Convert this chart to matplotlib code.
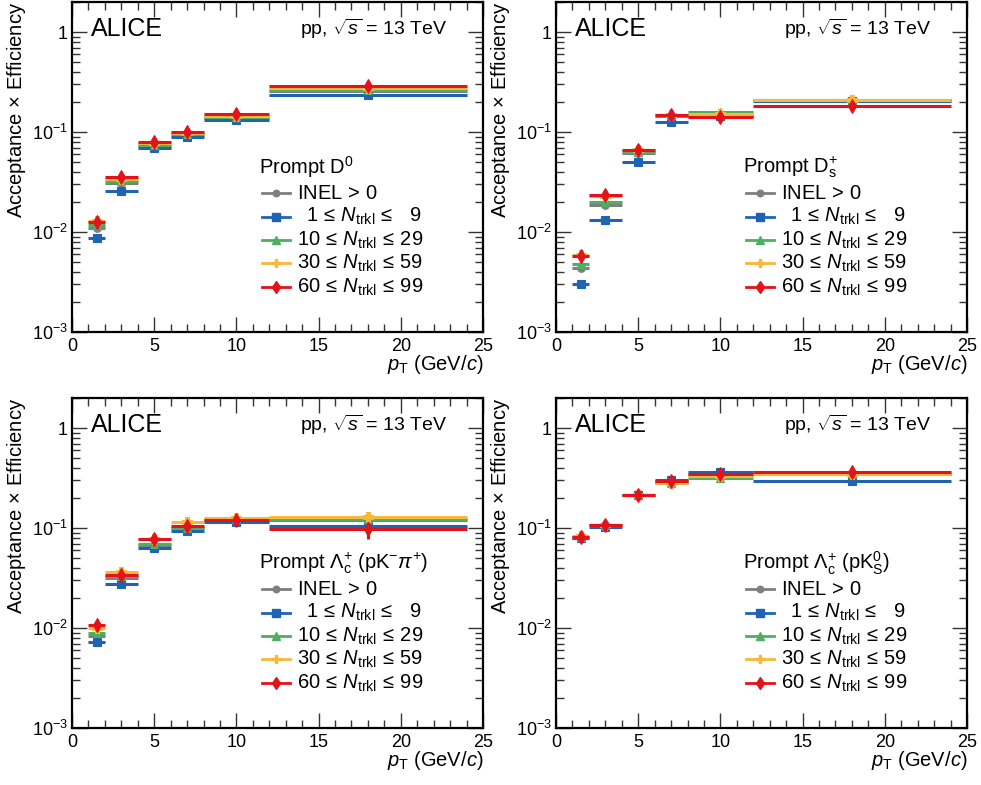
import matplotlib
matplotlib.use("Agg")
import matplotlib.pyplot as plt
from matplotlib.lines import Line2D
from matplotlib.ticker import FuncFormatter, LogLocator, MultipleLocator, NullFormatter
import numpy as np

plt.rcParams['font.family'] = ['Liberation Sans', 'DejaVu Sans']
plt.rcParams['mathtext.fontset'] = 'custom'
plt.rcParams['mathtext.rm'] = 'Liberation Sans'
plt.rcParams['mathtext.it'] = 'Liberation Sans:italic'
plt.rcParams['mathtext.bf'] = 'Liberation Sans:bold'
plt.rcParams['mathtext.sf'] = 'Liberation Sans'

# ---------------- data ----------------
pt_lo = [1, 2, 4, 6, 8, 12]
pt_hi = [2, 4, 6, 8, 12, 24]
pt_c = [1.5, 3, 5, 7, 10, 18]

series_labels = [
    r"INEL$\,>\,$0",
    r"$\;\;$1$\,\leq\,N_{\rm trkl}\,\leq\;\;\;$9",
    r"10$\,\leq\,N_{\rm trkl}\,\leq\,$29",
    r"30$\,\leq\,N_{\rm trkl}\,\leq\,$59",
    r"60$\,\leq\,N_{\rm trkl}\,\leq\,$99",
]
series_colors = ["#7f7f7f", "#1f63b3", "#4cb061", "#f6b93b", "#e3121b"]
series_markers = ["o", "s", "^", "P", "d"]
series_ms = [5.5, 6, 6, 7.5, 7.5]

# Prompt D0
d0_inel = [0.011, 0.031, 0.073, 0.094, 0.138, 0.260]
d0_n1_9 = [0.0087, 0.0255, 0.070, 0.090, 0.133, 0.233]
d0_n10_29 = [0.0118, 0.0326, 0.074, 0.096, 0.141, 0.265]
d0_n30_59 = [0.0130, 0.0340, 0.077, 0.098, 0.146, 0.278]
d0_n60_99 = [0.0125, 0.0359, 0.079, 0.100, 0.150, 0.290]

# Prompt Ds+
ds_inel = [0.0044, 0.0185, 0.0617, 0.146, 0.149, 0.208]
ds_n1_9 = [0.0030, 0.0133, 0.050, 0.127, 0.146, 0.206]
ds_n10_29 = [0.0048, 0.0200, 0.0626, 0.147, 0.157, 0.209]
ds_n30_59 = [0.0059, 0.0230, 0.0665, 0.149, 0.152, 0.210]
ds_n60_99 = [0.0057, 0.0233, 0.0665, 0.147, 0.143, 0.181]

# Prompt Lc -> pK-pi+
lcpkpi_inel = [0.0083, 0.032, 0.067, 0.100, 0.118, 0.120]
lcpkpi_n1_9 = [0.0072, 0.0278, 0.063, 0.094, 0.116, 0.104]
lcpkpi_n10_29 = [0.0089, 0.033, 0.0685, 0.100, 0.122, 0.123]
lcpkpi_n30_59 = [0.0100, 0.036, 0.077, 0.114, 0.126, 0.130]
lcpkpi_n60_99 = [0.0108, 0.0341, 0.078, 0.106, 0.120, 0.097]
lcpkpi_n1_9_err = [0, 0, 0, 0, 0, 0.010]
lcpkpi_n60_99_err = [0, 0, 0, 0, 0, 0.019]

# Prompt Lc -> pK0S
lcpk0s_inel = [0.082, 0.107, 0.215, 0.290, 0.340, 0.350]
lcpk0s_n1_9 = [0.080, 0.102, 0.215, 0.300, 0.363, 0.297]
lcpk0s_n10_29 = [0.082, 0.107, 0.213, 0.285, 0.320, 0.350]
lcpk0s_n30_59 = [0.083, 0.108, 0.215, 0.280, 0.333, 0.345]
lcpk0s_n60_99 = [0.082, 0.108, 0.215, 0.297, 0.346, 0.363]

panel_titles = [
    r"Prompt D$^{0}$",
    r"Prompt D$_{\rm s}^{+}$",
    r"Prompt $\Lambda_{\rm c}^{+}$ (pK$^{-}\pi^{+}$)",
    r"Prompt $\Lambda_{\rm c}^{+}$ (pK$_{\rm S}^{0}$)",
]
panel_data = [
    [d0_inel, d0_n1_9, d0_n10_29, d0_n30_59, d0_n60_99],
    [ds_inel, ds_n1_9, ds_n10_29, ds_n30_59, ds_n60_99],
    [lcpkpi_inel, lcpkpi_n1_9, lcpkpi_n10_29, lcpkpi_n30_59, lcpkpi_n60_99],
    [lcpk0s_inel, lcpk0s_n1_9, lcpk0s_n10_29, lcpk0s_n30_59, lcpk0s_n60_99],
]
zero = [0, 0, 0, 0, 0, 0]
panel_err = [
    [zero] * 5,
    [zero] * 5,
    [zero, lcpkpi_n1_9_err, zero, zero, lcpkpi_n60_99_err],
    [zero] * 5,
]

# ---------------- figure ----------------
W, H = 981, 785
fig = plt.figure(figsize=(W / 100, H / 100), dpi=100)

ax_w = 411 / W
ax_h = 330 / H
lefts = [72 / W, 556 / W]
bottoms = [1 - 332 / H, 1 - 728 / H]

def yfmt(v, pos):
    e = int(round(np.log10(v)))
    if e == 0:
        return "1"
    return r"$10^{%d}$" % e

xerr_lo = [c - lo for c, lo in zip(pt_c, pt_lo)]
xerr_hi = [hi - c for c, hi in zip(pt_c, pt_hi)]

for ip in range(4):
    row, col = divmod(ip, 2)
    ax = fig.add_axes([lefts[col], bottoms[row], ax_w, ax_h])
    ax.set_yscale('log')
    ax.set_xlim(0, 25)
    ax.set_ylim(1e-3, 2.0)

    for s in range(5):
        ax.errorbar(pt_c, panel_data[ip][s], xerr=[xerr_lo, xerr_hi],
                    yerr=panel_err[ip][s],
                    fmt=series_markers[s], color=series_colors[s],
                    ms=series_ms[s], mec=series_colors[s], mew=0.8,
                    elinewidth=2.2, capsize=0, zorder=3 + s)

    # ticks
    ax.xaxis.set_major_locator(MultipleLocator(5))
    ax.xaxis.set_minor_locator(MultipleLocator(1))
    ax.yaxis.set_major_locator(LogLocator(base=10, numticks=10))
    ax.yaxis.set_minor_locator(LogLocator(base=10, subs=np.arange(2, 10), numticks=20))
    ax.yaxis.set_major_formatter(FuncFormatter(yfmt))
    ax.yaxis.set_minor_formatter(NullFormatter())
    ax.tick_params(which='both', direction='in', top=True, right=True,
                   labelsize=13, width=1.0, color='#333333')
    ax.tick_params(which='major', length=11)
    ax.tick_params(which='minor', length=6)
    ax.tick_params(axis='x', which='major', pad=4)
    ax.tick_params(axis='y', which='major', pad=3)
    for sp in ax.spines.values():
        sp.set_linewidth(1.6)

    ax.set_ylabel(r"Acceptance $\times$ Efficiency", fontsize=14.5, loc='top', labelpad=3)
    ax.set_xlabel(r"$p_{\rm T}$ (GeV/$c$)", fontsize=14.5, loc='right', labelpad=-1)

    # header texts
    ax.text(0.045, 0.955, "ALICE", transform=ax.transAxes, fontsize=18,
            ha='left', va='top')
    ax.text(0.912, 0.955, r"pp, $\sqrt{s}$ = 13 TeV", transform=ax.transAxes,
            fontsize=14, ha='right', va='top')

    # legend (manual, in axes coordinates)
    ax.text(0.455, 0.50, panel_titles[ip], transform=ax.transAxes, fontsize=14.5,
            ha='left', va='center')
    ys = [0.421, 0.350, 0.279, 0.208, 0.136]
    for s in range(5):
        ax.add_line(Line2D([0.462, 0.530], [ys[s], ys[s]], transform=ax.transAxes,
                           color=series_colors[s], lw=2.0, zorder=10))
        ax.add_line(Line2D([0.496], [ys[s]], transform=ax.transAxes,
                           marker=series_markers[s], color=series_colors[s],
                           ms=series_ms[s] * 0.85, zorder=11, ls='none'))
        ax.text(0.548, ys[s], series_labels[s], transform=ax.transAxes,
                fontsize=14.5, ha='left', va='center')

fig.savefig("out.png", dpi=100)
